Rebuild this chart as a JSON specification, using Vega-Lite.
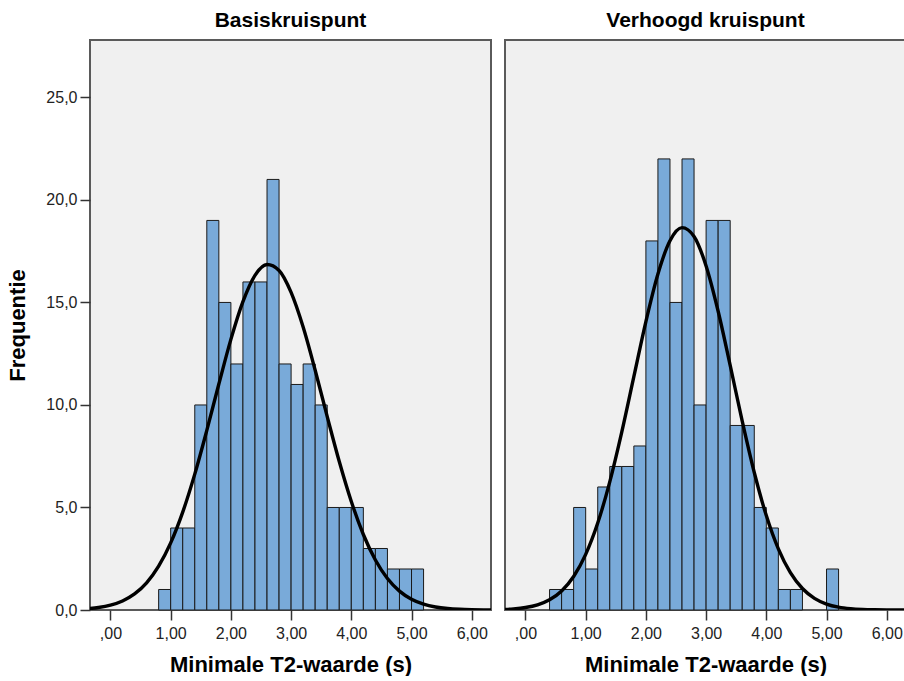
{
  "$schema": "https://vega.github.io/schema/vega-lite/v6.json",
  "background": "white",
  "padding": {"left": 5, "top": 9, "right": 0, "bottom": 0},
  "spacing": 12,
  "config": {
    "view": {"fill": "#f0f0f0", "stroke": "#5a5a5a", "strokeWidth": 2},
    "font": "Liberation Sans",
    "axis": {
      "labelFont": "Liberation Sans",
      "labelFontSize": 16,
      "labelColor": "#222222",
      "titleFont": "Liberation Sans",
      "titleFontSize": 22,
      "titleFontWeight": "bold",
      "titleColor": "#000000",
      "tickColor": "#333333",
      "tickWidth": 1.5,
      "tickSize": 10,
      "domain": false,
      "grid": false,
      "labelPadding": 3
    },
    "title": {"font": "Liberation Sans", "fontSize": 21, "fontWeight": "bold", "color": "#000000", "offset": 9, "anchor": "middle"}
  },
  "datasets": {
    "basis_bins": [
      {"bin_start": 0.8, "bin_end": 1.0, "count": 1},
      {"bin_start": 1.0, "bin_end": 1.2, "count": 4},
      {"bin_start": 1.2, "bin_end": 1.4, "count": 4},
      {"bin_start": 1.4, "bin_end": 1.6, "count": 10},
      {"bin_start": 1.6, "bin_end": 1.8, "count": 19},
      {"bin_start": 1.8, "bin_end": 2.0, "count": 15},
      {"bin_start": 2.0, "bin_end": 2.2, "count": 12},
      {"bin_start": 2.2, "bin_end": 2.4, "count": 16},
      {"bin_start": 2.4, "bin_end": 2.6, "count": 16},
      {"bin_start": 2.6, "bin_end": 2.8, "count": 21},
      {"bin_start": 2.8, "bin_end": 3.0, "count": 12},
      {"bin_start": 3.0, "bin_end": 3.2, "count": 11},
      {"bin_start": 3.2, "bin_end": 3.4, "count": 12},
      {"bin_start": 3.4, "bin_end": 3.6, "count": 10},
      {"bin_start": 3.6, "bin_end": 3.8, "count": 5},
      {"bin_start": 3.8, "bin_end": 4.0, "count": 5},
      {"bin_start": 4.0, "bin_end": 4.2, "count": 5},
      {"bin_start": 4.2, "bin_end": 4.4, "count": 3},
      {"bin_start": 4.4, "bin_end": 4.6, "count": 3},
      {"bin_start": 4.6, "bin_end": 4.8, "count": 2},
      {"bin_start": 4.8, "bin_end": 5.0, "count": 2},
      {"bin_start": 5.0, "bin_end": 5.2, "count": 2}
    ],
    "verhoogd_bins": [
      {"bin_start": 0.4, "bin_end": 0.6, "count": 1},
      {"bin_start": 0.6, "bin_end": 0.8, "count": 1},
      {"bin_start": 0.8, "bin_end": 1.0, "count": 5},
      {"bin_start": 1.0, "bin_end": 1.2, "count": 2},
      {"bin_start": 1.2, "bin_end": 1.4, "count": 6},
      {"bin_start": 1.4, "bin_end": 1.6, "count": 7},
      {"bin_start": 1.6, "bin_end": 1.8, "count": 7},
      {"bin_start": 1.8, "bin_end": 2.0, "count": 8},
      {"bin_start": 2.0, "bin_end": 2.2, "count": 18},
      {"bin_start": 2.2, "bin_end": 2.4, "count": 22},
      {"bin_start": 2.4, "bin_end": 2.6, "count": 15},
      {"bin_start": 2.6, "bin_end": 2.8, "count": 22},
      {"bin_start": 2.8, "bin_end": 3.0, "count": 10},
      {"bin_start": 3.0, "bin_end": 3.2, "count": 19},
      {"bin_start": 3.2, "bin_end": 3.4, "count": 19},
      {"bin_start": 3.4, "bin_end": 3.6, "count": 9},
      {"bin_start": 3.6, "bin_end": 3.8, "count": 9},
      {"bin_start": 3.8, "bin_end": 4.0, "count": 5},
      {"bin_start": 4.0, "bin_end": 4.2, "count": 4},
      {"bin_start": 4.2, "bin_end": 4.4, "count": 1},
      {"bin_start": 4.4, "bin_end": 4.6, "count": 1},
      {"bin_start": 5.0, "bin_end": 5.2, "count": 2}
    ],
    "basis_curve": [
      {"t2": -0.4, "freq": 0.058}, {"t2": -0.2, "freq": 0.12}, {"t2": 0.0, "freq": 0.236},
      {"t2": 0.2, "freq": 0.44}, {"t2": 0.4, "freq": 0.783}, {"t2": 0.6, "freq": 1.324},
      {"t2": 0.8, "freq": 2.134}, {"t2": 1.0, "freq": 3.271}, {"t2": 1.2, "freq": 4.772},
      {"t2": 1.4, "freq": 6.626}, {"t2": 1.6, "freq": 8.759}, {"t2": 1.8, "freq": 11.02},
      {"t2": 2.0, "freq": 13.2}, {"t2": 2.2, "freq": 15.04}, {"t2": 2.4, "freq": 16.32},
      {"t2": 2.6, "freq": 16.85}, {"t2": 2.8, "freq": 16.56}, {"t2": 3.0, "freq": 15.49},
      {"t2": 3.2, "freq": 13.8}, {"t2": 3.4, "freq": 11.69}, {"t2": 3.6, "freq": 9.433},
      {"t2": 3.8, "freq": 7.243}, {"t2": 4.0, "freq": 5.293}, {"t2": 4.2, "freq": 3.682},
      {"t2": 4.4, "freq": 2.438}, {"t2": 4.6, "freq": 1.536}, {"t2": 4.8, "freq": 0.922},
      {"t2": 5.0, "freq": 0.526}, {"t2": 5.2, "freq": 0.286}, {"t2": 5.4, "freq": 0.148},
      {"t2": 5.6, "freq": 0.073}, {"t2": 5.8, "freq": 0.034}, {"t2": 6.0, "freq": 0.015},
      {"t2": 6.2, "freq": 0.006}, {"t2": 6.4, "freq": 0.002}
    ],
    "verhoogd_curve": [
      {"t2": -0.4, "freq": 0.023}, {"t2": -0.2, "freq": 0.054}, {"t2": 0.0, "freq": 0.12},
      {"t2": 0.2, "freq": 0.252}, {"t2": 0.4, "freq": 0.499}, {"t2": 0.6, "freq": 0.931},
      {"t2": 0.8, "freq": 1.636}, {"t2": 1.0, "freq": 2.713}, {"t2": 1.2, "freq": 4.241},
      {"t2": 1.4, "freq": 6.251}, {"t2": 1.6, "freq": 8.688}, {"t2": 1.8, "freq": 11.38},
      {"t2": 2.0, "freq": 14.07}, {"t2": 2.2, "freq": 16.39}, {"t2": 2.4, "freq": 18.01},
      {"t2": 2.6, "freq": 18.65}, {"t2": 2.8, "freq": 18.22}, {"t2": 3.0, "freq": 16.78},
      {"t2": 3.2, "freq": 14.57}, {"t2": 3.4, "freq": 11.93}, {"t2": 3.6, "freq": 9.214},
      {"t2": 3.8, "freq": 6.708}, {"t2": 4.0, "freq": 4.605}, {"t2": 4.2, "freq": 2.98},
      {"t2": 4.4, "freq": 1.82}, {"t2": 4.6, "freq": 1.047}, {"t2": 4.8, "freq": 0.568},
      {"t2": 5.0, "freq": 0.291}, {"t2": 5.2, "freq": 0.14}, {"t2": 5.4, "freq": 0.064},
      {"t2": 5.6, "freq": 0.027}, {"t2": 5.8, "freq": 0.011}, {"t2": 6.0, "freq": 0.004},
      {"t2": 6.2, "freq": 0.0015}, {"t2": 6.4, "freq": 0.0005}
    ]
  },
  "hconcat": [
    {
      "title": "Basiskruispunt",
      "width": 401,
      "height": 570,
      "layer": [
        {
          "data": {"name": "basis_bins"},
          "mark": {"type": "bar", "fill": "#79aad9", "stroke": "#1a1a1a", "strokeWidth": 1},
          "encoding": {
            "x": {
              "field": "bin_start", "type": "quantitative",
              "scale": {"domain": [-0.34, 6.32], "nice": false, "zero": false},
              "axis": {"values": [0, 1, 2, 3, 4, 5, 6], "labelExpr": "datum.value == 0 ? ',00' : replace(format(datum.value, '.2f'), '.', ',')", "labelPadding": 5, "titlePadding": 13},
              "title": "Minimale T2-waarde (s)"
            },
            "x2": {"field": "bin_end"},
            "y": {
              "field": "count", "type": "quantitative",
              "scale": {"domain": [0, 27.8], "nice": false},
              "axis": {"values": [0, 5, 10, 15, 20, 25], "labelExpr": "replace(format(datum.value, '.1f'), '.', ',')", "titlePadding": 16},
              "title": "Frequentie"
            },
            "y2": {"datum": 0}
          }
        },
        {
          "data": {"name": "basis_curve"},
          "mark": {"type": "line", "color": "#000000", "strokeWidth": 3.4, "clip": true, "interpolate": "monotone"},
          "encoding": {
            "x": {"field": "t2", "type": "quantitative"},
            "y": {"field": "freq", "type": "quantitative"}
          }
        }
      ]
    },
    {
      "title": "Verhoogd kruispunt",
      "width": 401,
      "height": 570,
      "layer": [
        {
          "data": {"name": "verhoogd_bins"},
          "mark": {"type": "bar", "fill": "#79aad9", "stroke": "#1a1a1a", "strokeWidth": 1},
          "encoding": {
            "x": {
              "field": "bin_start", "type": "quantitative",
              "scale": {"domain": [-0.34, 6.32], "nice": false, "zero": false},
              "axis": {"values": [0, 1, 2, 3, 4, 5, 6], "labelExpr": "datum.value == 0 ? ',00' : replace(format(datum.value, '.2f'), '.', ',')", "labelPadding": 5, "titlePadding": 13},
              "title": "Minimale T2-waarde (s)"
            },
            "x2": {"field": "bin_end"},
            "y": {
              "field": "count", "type": "quantitative",
              "scale": {"domain": [0, 27.8], "nice": false},
              "axis": null
            },
            "y2": {"datum": 0}
          }
        },
        {
          "data": {"name": "verhoogd_curve"},
          "mark": {"type": "line", "color": "#000000", "strokeWidth": 3.4, "clip": true, "interpolate": "monotone"},
          "encoding": {
            "x": {"field": "t2", "type": "quantitative"},
            "y": {"field": "freq", "type": "quantitative"}
          }
        }
      ]
    }
  ]
}
